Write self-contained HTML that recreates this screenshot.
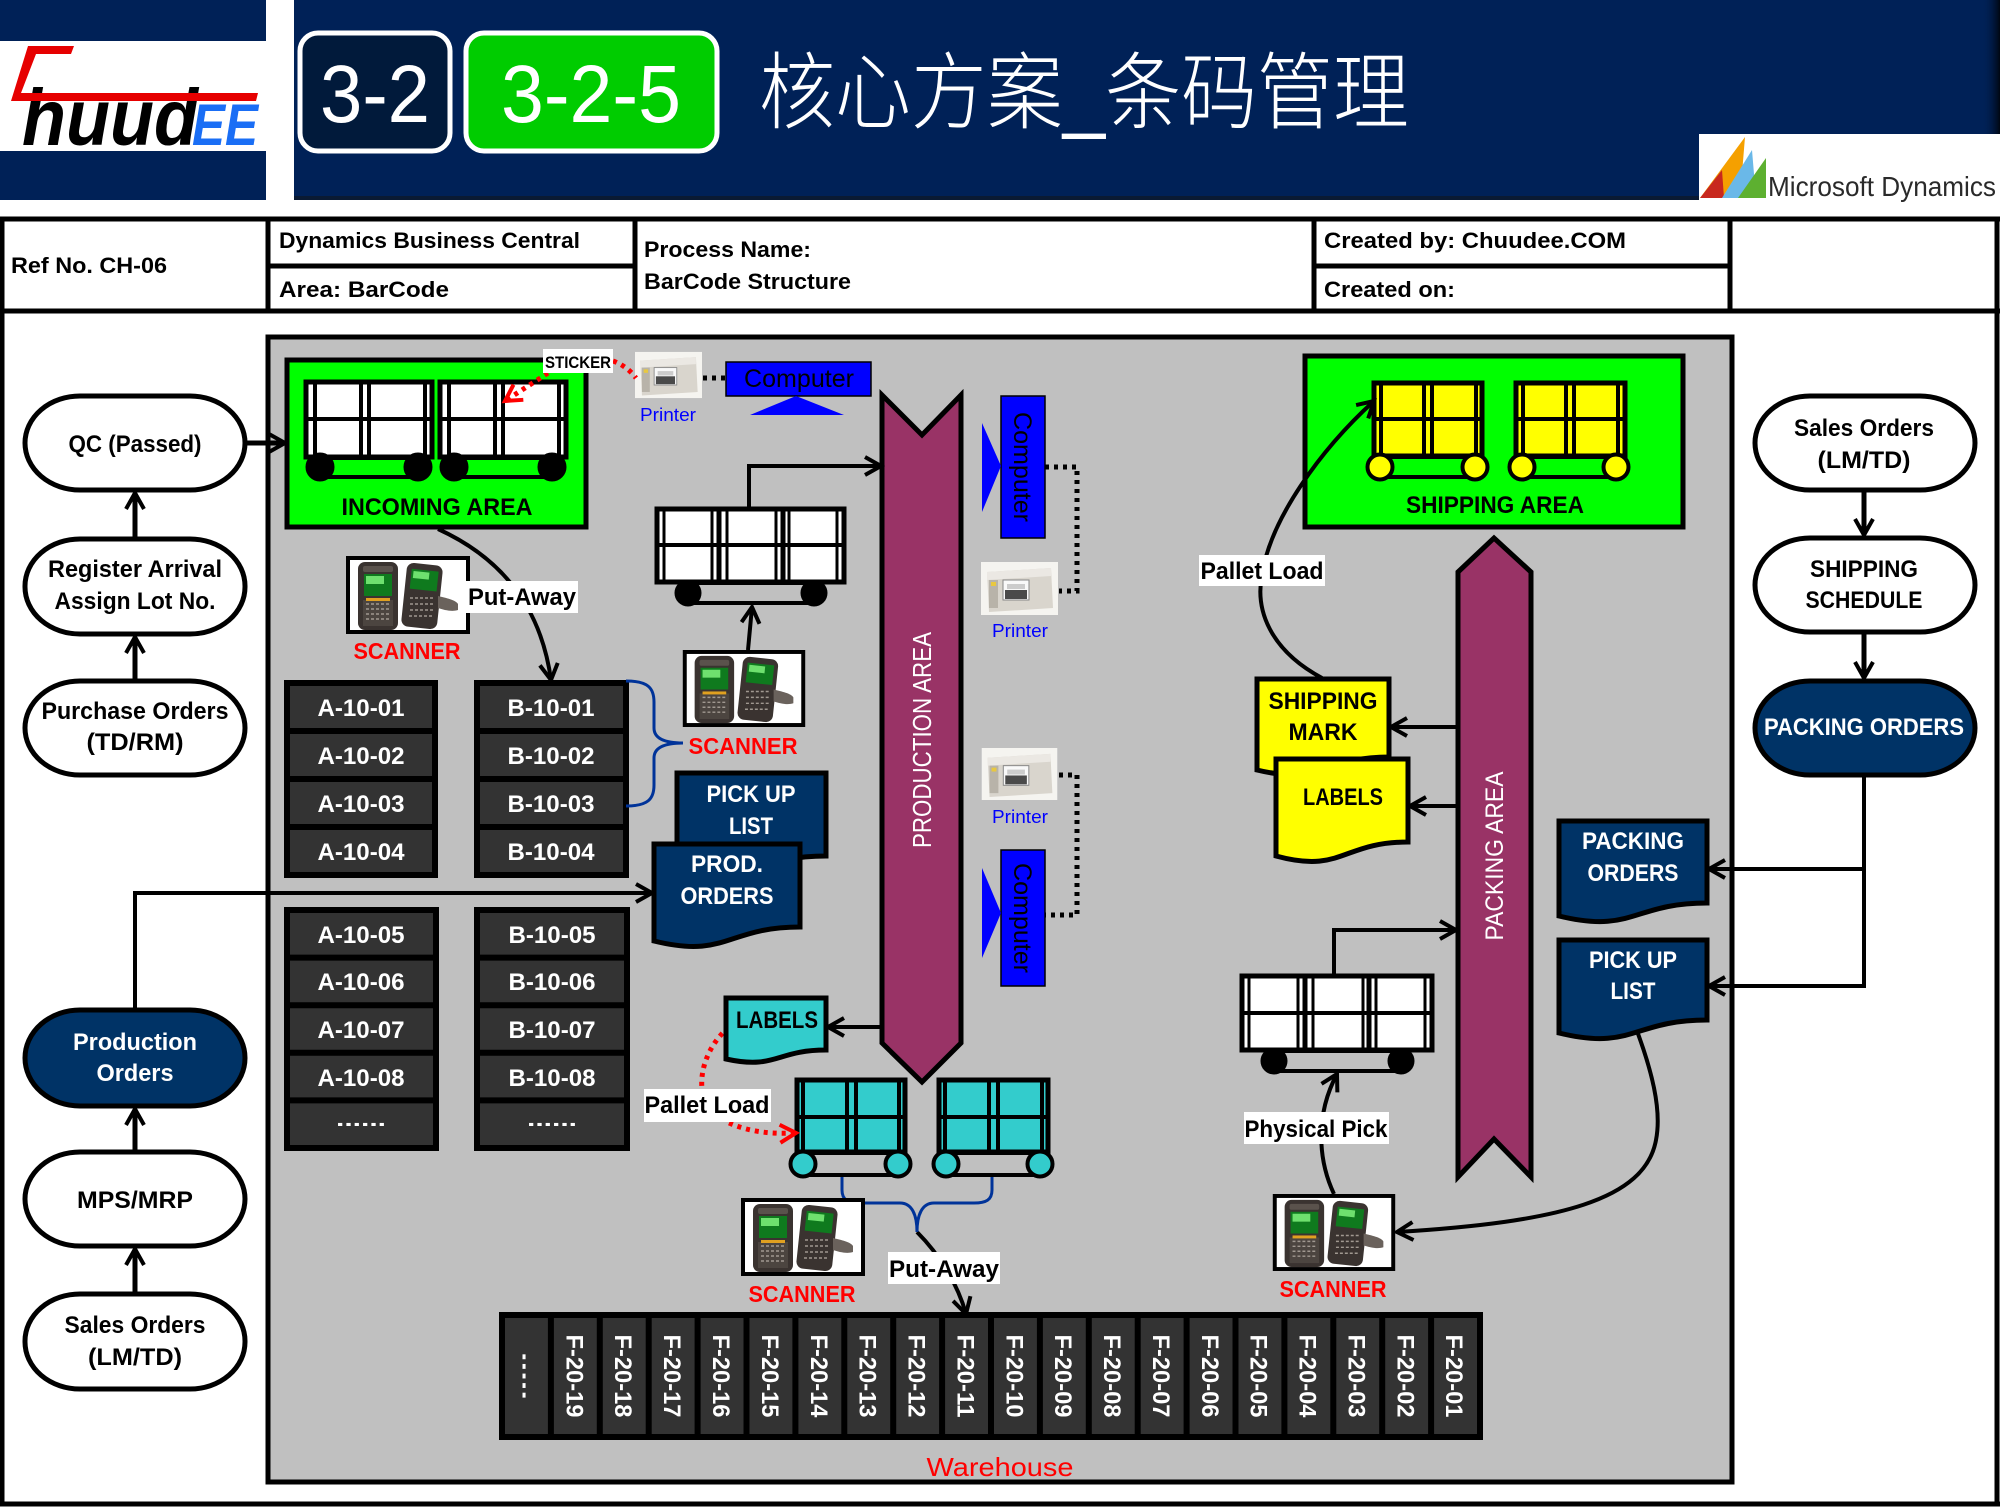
<!DOCTYPE html>
<html><head><meta charset="utf-8">
<style>
html,body{margin:0;padding:0;background:#fff;}
svg{display:block;}
text{font-family:"Liberation Sans","Noto Sans CJK SC",sans-serif;}
.b{font-weight:bold;}
</style></head><body>
<svg width="2000" height="1508" viewBox="0 0 2000 1508" xmlns="http://www.w3.org/2000/svg" xmlns:xlink="http://www.w3.org/1999/xlink">
<defs>
<marker id="ah" markerUnits="userSpaceOnUse" markerWidth="26" markerHeight="26" refX="18" refY="10" orient="auto" overflow="visible">
<path d="M2,1 L18,10 L2,19" fill="none" stroke="#000" stroke-width="4"/>
</marker>
<marker id="ahr" markerUnits="userSpaceOnUse" markerWidth="26" markerHeight="26" refX="18" refY="10" orient="auto" overflow="visible">
<path d="M2,1 L18,10 L2,19" fill="none" stroke="#f00" stroke-width="4"/>
</marker>
<linearGradient id="sh" x1="0" y1="0" x2="1" y2="0"><stop offset="0" stop-color="#002157" stop-opacity="0"/><stop offset="1" stop-color="#000" stop-opacity=".8"/></linearGradient>
<symbol id="scn" viewBox="0 0 124 78">
 <rect x="2" y="2" width="120" height="74" fill="#fff" stroke="#000" stroke-width="4"/>
 <rect x="12" y="6" width="40" height="68" rx="7" fill="#3a3330"/>
 <rect x="17" y="10" width="30" height="6" rx="2" fill="#5a524c"/>
 <rect x="18" y="18" width="28" height="22" fill="#0f7a1e"/>
 <rect x="20" y="20" width="18" height="8" fill="#6ee06e"/>
 <rect x="17" y="44" width="30" height="26" fill="#4c4540"/>
 <rect x="20" y="42" width="24" height="3" fill="#e0a020"/>
 <path d="M20,48 H44 M20,53 H44 M20,58 H44 M20,63 H44" stroke="#a09890" stroke-width="1.5" stroke-dasharray="3,2"/>
 <rect x="58" y="8" width="36" height="64" rx="7" fill="#3a3330" transform="rotate(6 76 40)"/>
 <rect x="63" y="14" width="27" height="20" fill="#0f7a1e" transform="rotate(6 76 40)"/>
 <rect x="65" y="16" width="16" height="7" fill="#6ee06e" transform="rotate(6 76 40)"/>
 <path d="M64,42 H88 M64,48 H88 M64,54 H88 M63,60 H87" stroke="#a09890" stroke-width="1.5" stroke-dasharray="3,2"/>
 <path d="M92,40 C100,42 110,44 112,48 L112,54 C106,56 98,54 92,52 Z" fill="#6a625c"/>
</symbol>
<symbol id="prn" viewBox="0 0 77 53">
 <rect width="77" height="53" fill="#f5f4f0"/>
 <path d="M6,10 L70,6 L72,46 L8,50 Z" fill="#d9d5cd"/>
 <path d="M6,10 L70,6 L70,14 L6,18 Z" fill="#ebe8e3"/>
 <rect x="8" y="18" width="9" height="28" fill="#b8b3a9"/>
 <rect x="10" y="20" width="5" height="4" fill="#e8c840"/>
 <rect x="22" y="18" width="26" height="20" fill="#f9f9f9" stroke="#888" stroke-width="1"/>
 <rect x="24" y="28" width="22" height="9" fill="#4a4a4a"/>
 <rect x="26" y="22" width="18" height="5" fill="#ccc"/>
</symbol>
</defs>

<!-- HEADER -->
<rect x="0" y="0" width="266" height="200" fill="#002157"/>
<rect x="0" y="41" width="266" height="110" fill="#fff"/>
<rect x="294" y="0" width="1706" height="200" fill="#002157"/>
<rect x="1982" y="0" width="18" height="200" fill="url(#sh)"/>
<rect x="294" y="196" width="1706" height="4" fill="#0a1a33"/>
<!-- chuudee logo -->
<text x="22" y="145" font-size="80" class="b" font-style="italic" fill="#000" textLength="176" lengthAdjust="spacingAndGlyphs">huud</text>
<text x="192" y="145" font-size="58" class="b" font-style="italic" fill="#1a6ef5" textLength="66" lengthAdjust="spacingAndGlyphs">EE</text>
<polygon points="28,46 74,46 71,54 36,54 21,93 258,93 256,101 11,101" fill="#e60000"/>

<rect x="300" y="33" width="150" height="118" rx="18" fill="#011a3b" stroke="#fff" stroke-width="5"/>
<text x="375" y="122" font-size="82" fill="#fff" text-anchor="middle" textLength="110" lengthAdjust="spacingAndGlyphs">3-2</text>
<rect x="466" y="33" width="251" height="118" rx="18" fill="#00cc00" stroke="#fff" stroke-width="5"/>
<text x="591" y="122" font-size="82" fill="#fff" text-anchor="middle" textLength="180" lengthAdjust="spacingAndGlyphs">3-2-5</text>
<text x="759" y="122" font-size="84" fill="#fff" font-family="Noto Sans CJK SC, sans-serif" font-weight="300" textLength="650" lengthAdjust="spacingAndGlyphs">核心方案_条码管理</text>

<!-- MS Dynamics logo -->
<rect x="1699" y="134" width="301" height="66" fill="#fff"/>
<polygon points="1700,198 1745,137 1740,198" fill="#f5a000"/>
<polygon points="1700,198 1722,170 1724,198" fill="#c8281e"/>
<polygon points="1722,198 1752,150 1756,198" fill="#6ab8e8"/>
<polygon points="1738,198 1766,158 1766,198" fill="#5db030"/>
<text x="1768" y="196" font-size="28" fill="#2a2a2a" textLength="228" lengthAdjust="spacingAndGlyphs">Microsoft Dynamics</text>

<!-- TABLE / FRAME -->
<g stroke="#000" stroke-width="5" fill="none">
<line x1="0" y1="219" x2="2000" y2="219"/>
<line x1="0" y1="311" x2="2000" y2="311"/>
<line x1="268" y1="219" x2="268" y2="311"/>
<line x1="635" y1="219" x2="635" y2="311"/>
<line x1="1314" y1="219" x2="1314" y2="311"/>
<line x1="1730" y1="219" x2="1730" y2="311"/>
<line x1="268" y1="266" x2="635" y2="266"/>
<line x1="1314" y1="266" x2="1730" y2="266"/>
<line x1="2" y1="219" x2="2" y2="1506"/>
<line x1="1997" y1="219" x2="1997" y2="1506"/>
<line x1="0" y1="1504" x2="2000" y2="1504"/>
</g>
<g class="b" font-size="22" fill="#000">
<text x="11" y="273" textLength="156" lengthAdjust="spacingAndGlyphs">Ref No. CH-06</text>
<text x="279" y="248" textLength="301" lengthAdjust="spacingAndGlyphs">Dynamics Business Central</text>
<text x="279" y="297" textLength="170" lengthAdjust="spacingAndGlyphs">Area:  BarCode</text>
<text x="644" y="257" textLength="167" lengthAdjust="spacingAndGlyphs">Process Name:</text>
<text x="644" y="289" textLength="207" lengthAdjust="spacingAndGlyphs">BarCode Structure</text>
<text x="1324" y="248" textLength="302" lengthAdjust="spacingAndGlyphs">Created by: Chuudee.COM</text>
<text x="1324" y="297" textLength="131" lengthAdjust="spacingAndGlyphs">Created on:</text>
</g>

<!-- GRAY PANEL -->
<rect x="268" y="337" width="1464" height="1145" fill="#c0c0c0" stroke="#000" stroke-width="5"/>

<!-- LEFT OVALS -->
<g stroke="#000" stroke-width="5">
<rect x="25" y="396" width="220" height="94" rx="55" ry="47" fill="#fff"/>
<rect x="25" y="539" width="220" height="95" rx="55" ry="47" fill="#fff"/>
<rect x="25" y="681" width="220" height="94" rx="55" ry="47" fill="#fff"/>
<rect x="25" y="1010" width="220" height="96" rx="55" ry="48" fill="#003366"/>
<rect x="25" y="1152" width="220" height="94" rx="55" ry="47" fill="#fff"/>
<rect x="25" y="1294" width="220" height="95" rx="55" ry="47" fill="#fff"/>
<rect x="1755" y="396" width="220" height="94" rx="55" ry="47" fill="#fff"/>
<rect x="1755" y="538" width="220" height="94" rx="55" ry="47" fill="#fff"/>
<rect x="1755" y="681" width="220" height="94" rx="55" ry="47" fill="#003366"/>
</g>
<g class="b" font-size="24" text-anchor="middle" fill="#000">
<text x="135" y="452" textLength="133" lengthAdjust="spacingAndGlyphs">QC (Passed)</text>
<text x="135" y="577" textLength="174" lengthAdjust="spacingAndGlyphs">Register Arrival</text>
<text x="135" y="609" textLength="161" lengthAdjust="spacingAndGlyphs">Assign Lot No.</text>
<text x="135" y="719" textLength="187" lengthAdjust="spacingAndGlyphs">Purchase Orders</text>
<text x="135" y="750" textLength="97" lengthAdjust="spacingAndGlyphs">(TD/RM)</text>
<text x="135" y="1050" fill="#fff" textLength="124" lengthAdjust="spacingAndGlyphs">Production</text>
<text x="135" y="1081" fill="#fff" textLength="77" lengthAdjust="spacingAndGlyphs">Orders</text>
<text x="135" y="1208" textLength="116" lengthAdjust="spacingAndGlyphs">MPS/MRP</text>
<text x="135" y="1333" textLength="141" lengthAdjust="spacingAndGlyphs">Sales Orders</text>
<text x="135" y="1365" textLength="94" lengthAdjust="spacingAndGlyphs">(LM/TD)</text>
<text x="1864" y="436" textLength="140" lengthAdjust="spacingAndGlyphs">Sales Orders</text>
<text x="1864" y="468" textLength="93" lengthAdjust="spacingAndGlyphs">(LM/TD)</text>
<text x="1864" y="577" textLength="108" lengthAdjust="spacingAndGlyphs">SHIPPING</text>
<text x="1864" y="608" textLength="117" lengthAdjust="spacingAndGlyphs">SCHEDULE</text>
<text x="1864" y="735" fill="#fff" textLength="200" lengthAdjust="spacingAndGlyphs">PACKING ORDERS</text>
</g>

<!-- GREEN AREAS -->
<rect x="287" y="360" width="299" height="167" fill="#00ff00" stroke="#000" stroke-width="5"/>
<rect x="1305" y="356" width="378" height="171" fill="#00ff00" stroke="#000" stroke-width="5"/>

<!-- INCOMING CARTS -->
<g stroke="#000">
<rect x="306" y="382" width="126" height="75" fill="#fff" stroke-width="5"/>
<line x1="306" y1="419" x2="432" y2="419" stroke-width="4"/>
<path d="M315,382 V457 M361,382 V457 M369,382 V457 M425,382 V457" stroke-width="4"/>
<rect x="320" y="458" width="98" height="19" fill="none" stroke-width="4"/>
<circle cx="320" cy="467" r="14" fill="#000"/><circle cx="418" cy="467" r="14" fill="#000"/>
<rect x="440" y="382" width="126" height="75" fill="#fff" stroke-width="5"/>
<line x1="440" y1="419" x2="566" y2="419" stroke-width="4"/>
<path d="M449,382 V457 M495,382 V457 M503,382 V457 M559,382 V457" stroke-width="4"/>
<rect x="454" y="458" width="98" height="19" fill="none" stroke-width="4"/>
<circle cx="454" cy="467" r="14" fill="#000"/><circle cx="552" cy="467" r="14" fill="#000"/>
</g>
<text x="437" y="515" class="b" font-size="24" text-anchor="middle" textLength="191" lengthAdjust="spacingAndGlyphs">INCOMING AREA</text>

<!-- SHIPPING CARTS -->
<g stroke="#000">
<rect x="1374" y="383" width="108" height="73" fill="#ffff00" stroke-width="5"/>
<line x1="1374" y1="419" x2="1482" y2="419" stroke-width="4"/>
<path d="M1381,383 V456 M1424,383 V456 M1432,383 V456 M1476,383 V456" stroke-width="4"/>
<rect x="1380" y="457" width="95" height="20" fill="none" stroke-width="4"/>
<circle cx="1380" cy="467" r="12.5" fill="#ffff00" stroke-width="4"/><circle cx="1475" cy="467" r="12.5" fill="#ffff00" stroke-width="4"/>
<rect x="1516" y="383" width="109" height="73" fill="#ffff00" stroke-width="5"/>
<line x1="1516" y1="419" x2="1625" y2="419" stroke-width="4"/>
<path d="M1523,383 V456 M1566,383 V456 M1574,383 V456 M1618,383 V456" stroke-width="4"/>
<rect x="1522" y="457" width="94" height="20" fill="none" stroke-width="4"/>
<circle cx="1522" cy="467" r="12.5" fill="#ffff00" stroke-width="4"/><circle cx="1616" cy="467" r="12.5" fill="#ffff00" stroke-width="4"/>
</g>
<text x="1495" y="513" class="b" font-size="24" text-anchor="middle" textLength="178" lengthAdjust="spacingAndGlyphs">SHIPPING AREA</text>

<!-- WHITE 3-SECTION CARTS -->
<g stroke="#000">
<rect x="657" y="509" width="187" height="73" fill="#fff" stroke-width="5"/>
<line x1="657" y1="545" x2="844" y2="545" stroke-width="4"/>
<path d="M664,509 V582 M712,509 V582 M727,509 V582 M776,509 V582 M789,509 V582 M837,509 V582" stroke-width="3"/>
<path d="M719,509 V582 M783,509 V582" stroke-width="5"/>
<rect x="688" y="583" width="126" height="20" fill="none" stroke-width="4"/>
<circle cx="688" cy="593" r="13" fill="#000"/><circle cx="814" cy="593" r="13" fill="#000"/>

<rect x="1242" y="976" width="190" height="74" fill="#fff" stroke-width="5"/>
<line x1="1242" y1="1013" x2="1432" y2="1013" stroke-width="4"/>
<path d="M1249,976 V1050 M1298,976 V1050 M1313,976 V1050 M1363,976 V1050 M1376,976 V1050 M1425,976 V1050" stroke-width="3"/>
<path d="M1305,976 V1050 M1369,976 V1050" stroke-width="5"/>
<rect x="1274" y="1051" width="127" height="20" fill="none" stroke-width="4"/>
<circle cx="1274" cy="1061" r="13" fill="#000"/><circle cx="1401" cy="1061" r="13" fill="#000"/>
</g>

<!-- CYAN CARTS -->
<g stroke="#000">
<rect x="797" y="1080" width="108" height="72" fill="#33cccc" stroke-width="5"/>
<line x1="797" y1="1117" x2="905" y2="1117" stroke-width="4"/>
<path d="M803,1080 V1152 M847,1080 V1152 M856,1080 V1152 M899,1080 V1152" stroke-width="4"/>
<rect x="803" y="1153" width="95" height="22" fill="none" stroke-width="4"/>
<circle cx="803" cy="1164" r="12.5" fill="#33cccc" stroke-width="4"/><circle cx="898" cy="1164" r="12.5" fill="#33cccc" stroke-width="4"/>
<rect x="939" y="1080" width="109" height="72" fill="#33cccc" stroke-width="5"/>
<line x1="939" y1="1117" x2="1048" y2="1117" stroke-width="4"/>
<path d="M945,1080 V1152 M989,1080 V1152 M998,1080 V1152 M1042,1080 V1152" stroke-width="4"/>
<rect x="946" y="1153" width="94" height="22" fill="none" stroke-width="4"/>
<circle cx="946" cy="1164" r="12.5" fill="#33cccc" stroke-width="4"/><circle cx="1040" cy="1164" r="12.5" fill="#33cccc" stroke-width="4"/>
</g>

<!-- BANNERS -->
<polygon points="882,395 922,435 961,395 961,1043 922,1082 882,1043" fill="#993366" stroke="#000" stroke-width="5"/>
<text transform="translate(922,740) rotate(-90)" y="9" font-size="26" fill="#fff" text-anchor="middle" textLength="216" lengthAdjust="spacingAndGlyphs">PRODUCTION AREA</text>
<polygon points="1458,572 1494,538 1531,572 1531,1177 1494,1139 1458,1177" fill="#993366" stroke="#000" stroke-width="5"/>
<text transform="translate(1494,856) rotate(-90)" y="9" font-size="25" fill="#fff" text-anchor="middle" textLength="169" lengthAdjust="spacingAndGlyphs">PACKING AREA</text>

<!-- COMPUTERS -->
<rect x="726" y="362" width="145" height="34" fill="#0000ff" stroke="#000" stroke-width="1.5"/>
<polygon points="750,415 796,396 844,415" fill="#0000ff"/>
<text x="799" y="387" font-size="25" fill="#000" text-anchor="middle" textLength="110" lengthAdjust="spacingAndGlyphs">Computer</text>
<rect x="1001" y="396" width="44" height="142" fill="#0000ff" stroke="#000" stroke-width="1.5"/>
<polygon points="982,423 1001,466 982,512" fill="#0000ff"/>
<text transform="translate(1023,467) rotate(90)" y="9" font-size="25" fill="#000" text-anchor="middle" textLength="110" lengthAdjust="spacingAndGlyphs">Computer</text>
<rect x="1001" y="850" width="44" height="136" fill="#0000ff" stroke="#000" stroke-width="1.5"/>
<polygon points="982,868 1001,913 982,958" fill="#0000ff"/>
<text transform="translate(1023,918) rotate(90)" y="9" font-size="25" fill="#000" text-anchor="middle" textLength="110" lengthAdjust="spacingAndGlyphs">Computer</text>

<!-- PRINTERS -->
<use href="#prn" xlink:href="#prn" x="635" y="351" width="67" height="48"/>
<use href="#prn" xlink:href="#prn" x="981" y="562" width="77" height="53"/>
<use href="#prn" xlink:href="#prn" x="981" y="748" width="77" height="52"/>
<g font-size="18" fill="#0000ff" text-anchor="middle">
<text x="668" y="421" textLength="56" lengthAdjust="spacingAndGlyphs">Printer</text>
<text x="1020" y="637" textLength="56" lengthAdjust="spacingAndGlyphs">Printer</text>
<text x="1020" y="823" textLength="56" lengthAdjust="spacingAndGlyphs">Printer</text>
</g>

<!-- DOTTED LINES -->
<g fill="none" stroke="#000" stroke-width="5" stroke-dasharray="4,5">
<path d="M703,378 H726"/>
<path d="M1045,467 H1077 V591 H1059"/>
<path d="M1059,775 H1077 V915 H1045"/>
</g>
<g fill="none" stroke="#f00" stroke-width="5" stroke-dasharray="4,5">
<path d="M613,361 Q627,366 636,378"/>
<path d="M548,373 L505,401" marker-end="url(#ahr)"/>
<path d="M729,1027 C708,1045 700,1070 702,1089"/>
<path d="M729,1123 C752,1133 775,1134 796,1133" marker-end="url(#ahr)"/>
</g>

<!-- RACKS A/B -->
<g stroke="#000" stroke-width="6" fill="#333">
<rect x="287" y="683" width="148" height="192"/>
<rect x="477" y="683" width="149" height="192"/>
<rect x="287" y="910" width="149" height="238"/>
<rect x="477" y="910" width="150" height="238"/>
<path d="M287,731 H435 M287,779 H435 M287,827 H435 M477,731 H626 M477,779 H626 M477,827 H626" fill="none"/>
<path d="M287,957.6 H436 M287,1005.2 H436 M287,1052.8 H436 M287,1100.4 H436 M477,957.6 H627 M477,1005.2 H627 M477,1052.8 H627 M477,1100.4 H627" fill="none"/>
</g>
<g class="b" font-size="24" fill="#fff" text-anchor="middle">
<text x="361" y="716" textLength="87" lengthAdjust="spacingAndGlyphs">A-10-01</text>
<text x="361" y="764" textLength="87" lengthAdjust="spacingAndGlyphs">A-10-02</text>
<text x="361" y="812" textLength="87" lengthAdjust="spacingAndGlyphs">A-10-03</text>
<text x="361" y="860" textLength="87" lengthAdjust="spacingAndGlyphs">A-10-04</text>
<text x="551" y="716" textLength="87" lengthAdjust="spacingAndGlyphs">B-10-01</text>
<text x="551" y="764" textLength="87" lengthAdjust="spacingAndGlyphs">B-10-02</text>
<text x="551" y="812" textLength="87" lengthAdjust="spacingAndGlyphs">B-10-03</text>
<text x="551" y="860" textLength="87" lengthAdjust="spacingAndGlyphs">B-10-04</text>
<text x="361" y="943" textLength="87" lengthAdjust="spacingAndGlyphs">A-10-05</text>
<text x="361" y="990" textLength="87" lengthAdjust="spacingAndGlyphs">A-10-06</text>
<text x="361" y="1038" textLength="87" lengthAdjust="spacingAndGlyphs">A-10-07</text>
<text x="361" y="1086" textLength="87" lengthAdjust="spacingAndGlyphs">A-10-08</text>
<text x="361" y="1126" font-size="20" textLength="50" lengthAdjust="spacingAndGlyphs">......</text>
<text x="552" y="943" textLength="87" lengthAdjust="spacingAndGlyphs">B-10-05</text>
<text x="552" y="990" textLength="87" lengthAdjust="spacingAndGlyphs">B-10-06</text>
<text x="552" y="1038" textLength="87" lengthAdjust="spacingAndGlyphs">B-10-07</text>
<text x="552" y="1086" textLength="87" lengthAdjust="spacingAndGlyphs">B-10-08</text>
<text x="552" y="1126" font-size="20" textLength="50" lengthAdjust="spacingAndGlyphs">......</text>
</g>

<!-- WAREHOUSE RACK -->
<rect x="502" y="1315" width="978" height="122" fill="#333" stroke="#000" stroke-width="6"/>
<path d="M550.9,1315 V1437 M599.8,1315 V1437 M648.7,1315 V1437 M697.6,1315 V1437 M746.5,1315 V1437 M795.4,1315 V1437 M844.3,1315 V1437 M893.2,1315 V1437 M942.1,1315 V1437 M991,1315 V1437 M1039.9,1315 V1437 M1088.8,1315 V1437 M1137.7,1315 V1437 M1186.6,1315 V1437 M1235.5,1315 V1437 M1284.4,1315 V1437 M1333.3,1315 V1437 M1382.2,1315 V1437 M1431.1,1315 V1437" stroke="#000" stroke-width="6"/>
<g class="b" font-size="24" fill="#fff" text-anchor="middle">
<text transform="translate(526.5,1376) rotate(90)" y="4" font-size="20" textLength="48" lengthAdjust="spacingAndGlyphs">.....</text>
<text transform="translate(575.4,1376) rotate(90)" y="9" textLength="83" lengthAdjust="spacingAndGlyphs">F-20-19</text>
<text transform="translate(624.2,1376) rotate(90)" y="9" textLength="83" lengthAdjust="spacingAndGlyphs">F-20-18</text>
<text transform="translate(673.1,1376) rotate(90)" y="9" textLength="83" lengthAdjust="spacingAndGlyphs">F-20-17</text>
<text transform="translate(722,1376) rotate(90)" y="9" textLength="83" lengthAdjust="spacingAndGlyphs">F-20-16</text>
<text transform="translate(770.9,1376) rotate(90)" y="9" textLength="83" lengthAdjust="spacingAndGlyphs">F-20-15</text>
<text transform="translate(819.8,1376) rotate(90)" y="9" textLength="83" lengthAdjust="spacingAndGlyphs">F-20-14</text>
<text transform="translate(868.6,1376) rotate(90)" y="9" textLength="83" lengthAdjust="spacingAndGlyphs">F-20-13</text>
<text transform="translate(917.5,1376) rotate(90)" y="9" textLength="83" lengthAdjust="spacingAndGlyphs">F-20-12</text>
<text transform="translate(966.4,1376) rotate(90)" y="9" textLength="83" lengthAdjust="spacingAndGlyphs">F-20-11</text>
<text transform="translate(1015.3,1376) rotate(90)" y="9" textLength="83" lengthAdjust="spacingAndGlyphs">F-20-10</text>
<text transform="translate(1064.2,1376) rotate(90)" y="9" textLength="83" lengthAdjust="spacingAndGlyphs">F-20-09</text>
<text transform="translate(1113,1376) rotate(90)" y="9" textLength="83" lengthAdjust="spacingAndGlyphs">F-20-08</text>
<text transform="translate(1161.9,1376) rotate(90)" y="9" textLength="83" lengthAdjust="spacingAndGlyphs">F-20-07</text>
<text transform="translate(1210.8,1376) rotate(90)" y="9" textLength="83" lengthAdjust="spacingAndGlyphs">F-20-06</text>
<text transform="translate(1259.7,1376) rotate(90)" y="9" textLength="83" lengthAdjust="spacingAndGlyphs">F-20-05</text>
<text transform="translate(1308.6,1376) rotate(90)" y="9" textLength="83" lengthAdjust="spacingAndGlyphs">F-20-04</text>
<text transform="translate(1357.4,1376) rotate(90)" y="9" textLength="83" lengthAdjust="spacingAndGlyphs">F-20-03</text>
<text transform="translate(1406.3,1376) rotate(90)" y="9" textLength="83" lengthAdjust="spacingAndGlyphs">F-20-02</text>
<text transform="translate(1455.2,1376) rotate(90)" y="9" textLength="83" lengthAdjust="spacingAndGlyphs">F-20-01</text>
</g>
<text x="1000" y="1476" font-size="26" fill="#ff0000" text-anchor="middle" textLength="147" lengthAdjust="spacingAndGlyphs">Warehouse</text>

<!-- CONNECTORS -->
<g fill="none" stroke="#000" stroke-width="5">
<path d="M245,443 H285" marker-end="url(#ah)"/>
<path d="M135,538 V493" marker-end="url(#ah)"/>
<path d="M135,680 V637" marker-end="url(#ah)"/>
<path d="M135,1151 V1109" marker-end="url(#ah)"/>
<path d="M135,1293 V1249" marker-end="url(#ah)"/>
<path d="M1864,490 V535" marker-end="url(#ah)"/>
<path d="M1864,632 V678" marker-end="url(#ah)"/>
</g>
<g fill="none" stroke="#000" stroke-width="4">
<path d="M135,1010 V893 H652" marker-end="url(#ah)"/>
<path d="M1864,775 V986 H1709" marker-end="url(#ah)"/>
<path d="M1864,869 H1709" marker-end="url(#ah)"/>
<path d="M438,529 C495,555 540,600 551,680" marker-end="url(#ah)"/>
<path d="M749,509 V466 H881" marker-end="url(#ah)"/>
<path d="M748,650 L752,607" marker-end="url(#ah)"/>
<path d="M883,1027 H828" marker-end="url(#ah)"/>
<path d="M917,1232 C940,1255 958,1285 966,1314" marker-end="url(#ah)"/>
<path d="M1458,727 H1391" marker-end="url(#ah)"/>
<path d="M1458,806 H1410" marker-end="url(#ah)"/>
<path d="M1334,976 V930 H1456" marker-end="url(#ah)"/>
<path d="M1322,678 C1270,650 1255,610 1262,575 C1270,520 1320,450 1374,401" marker-end="url(#ah)"/>
<path d="M1334,1194 C1318,1160 1315,1115 1337,1074" marker-end="url(#ah)"/>
<path d="M1634,1023 C1652,1070 1662,1110 1656,1140 C1645,1200 1560,1222 1397,1232" marker-end="url(#ah)"/>
</g>
<!-- BLUE BRACES -->
<g fill="none" stroke="#003399" stroke-width="3">
<path d="M626,681 C648,681 654,688 654,702 V728 C654,738 664,743 683,743"/>
<path d="M626,806 C648,806 654,799 654,785 V758 C654,748 664,743 683,743"/>
<path d="M842,1177 V1190 C842,1200 848,1203 860,1203 H900 C912,1203 917,1215 917,1232"/>
<path d="M992,1177 V1190 C992,1200 986,1203 974,1203 H934 C922,1203 917,1215 917,1232"/>
</g>

<!-- DOCUMENTS -->
<g stroke="#000" stroke-width="5">
<path d="M677,773 H826 V856 C751,856 751,888 677,870 Z" fill="#003366"/>
<path d="M654,844 H800 V927 C727,927 727,959 654,941 Z" fill="#003366"/>
<path d="M726,998 H826 V1050 C776,1050 776,1070 726,1059 Z" fill="#33cccc"/>
<path d="M1257,679 H1389 V757 C1323,757 1323,786 1257,770 Z" fill="#ffff00"/>
<path d="M1276,759 H1408 V842 C1342,842 1342,874 1276,856 Z" fill="#ffff00"/>
<path d="M1559,821 H1707 V903 C1633,903 1633,934 1559,916 Z" fill="#003366"/>
<path d="M1559,940 H1707 V1020 C1633,1020 1633,1051 1559,1033 Z" fill="#003366"/>
</g>
<g class="b" font-size="24" text-anchor="middle">
<text x="751" y="802" fill="#fff" textLength="89" lengthAdjust="spacingAndGlyphs">PICK UP</text>
<text x="751" y="834" fill="#fff" textLength="44" lengthAdjust="spacingAndGlyphs">LIST</text>
<text x="727" y="872" fill="#fff" textLength="72" lengthAdjust="spacingAndGlyphs">PROD.</text>
<text x="727" y="904" fill="#fff" textLength="93" lengthAdjust="spacingAndGlyphs">ORDERS</text>
<text x="777" y="1028" fill="#000" textLength="82" lengthAdjust="spacingAndGlyphs">LABELS</text>
<text x="1323" y="709" fill="#000" textLength="109" lengthAdjust="spacingAndGlyphs">SHIPPING</text>
<text x="1323" y="740" fill="#000" textLength="69" lengthAdjust="spacingAndGlyphs">MARK</text>
<text x="1343" y="805" fill="#000" textLength="80" lengthAdjust="spacingAndGlyphs">LABELS</text>
<text x="1633" y="849" fill="#fff" textLength="102" lengthAdjust="spacingAndGlyphs">PACKING</text>
<text x="1633" y="881" fill="#fff" textLength="91" lengthAdjust="spacingAndGlyphs">ORDERS</text>
<text x="1633" y="968" fill="#fff" textLength="88" lengthAdjust="spacingAndGlyphs">PICK UP</text>
<text x="1633" y="999" fill="#fff" textLength="45" lengthAdjust="spacingAndGlyphs">LIST</text>
</g>

<!-- SCANNERS -->
<use href="#scn" xlink:href="#scn" x="346" y="556" width="124" height="78"/>
<use href="#scn" xlink:href="#scn" x="682" y="650" width="124" height="77"/>
<use href="#scn" xlink:href="#scn" x="741" y="1198" width="124" height="78"/>
<use href="#scn" xlink:href="#scn" x="1272" y="1194" width="124" height="77"/>
<g class="b" font-size="23" fill="#ff0000" text-anchor="middle">
<text x="407" y="659" textLength="107" lengthAdjust="spacingAndGlyphs">SCANNER</text>
<text x="743" y="754" textLength="109" lengthAdjust="spacingAndGlyphs">SCANNER</text>
<text x="802" y="1302" textLength="107" lengthAdjust="spacingAndGlyphs">SCANNER</text>
<text x="1333" y="1297" textLength="107" lengthAdjust="spacingAndGlyphs">SCANNER</text>
</g>

<!-- WHITE LABELS -->
<g fill="#fff">
<rect x="543" y="349" width="70" height="24"/>
<rect x="466" y="581" width="112" height="32"/>
<rect x="644" y="1089" width="127" height="33"/>
<rect x="888" y="1252" width="112" height="32"/>
<rect x="1199" y="555" width="126" height="31"/>
<rect x="1244" y="1112" width="145" height="32"/>
</g>
<g class="b" fill="#000" text-anchor="middle">
<text x="578" y="368" font-size="17" textLength="66" lengthAdjust="spacingAndGlyphs">STICKER</text>
<text x="522" y="605" font-size="24" textLength="108" lengthAdjust="spacingAndGlyphs">Put-Away</text>
<text x="707" y="1113" font-size="24" textLength="125" lengthAdjust="spacingAndGlyphs">Pallet Load</text>
<text x="944" y="1277" font-size="24" textLength="110" lengthAdjust="spacingAndGlyphs">Put-Away</text>
<text x="1262" y="579" font-size="24" textLength="123" lengthAdjust="spacingAndGlyphs">Pallet Load</text>
<text x="1316" y="1137" font-size="24" textLength="143" lengthAdjust="spacingAndGlyphs">Physical Pick</text>
</g>
</svg>
</body></html>
